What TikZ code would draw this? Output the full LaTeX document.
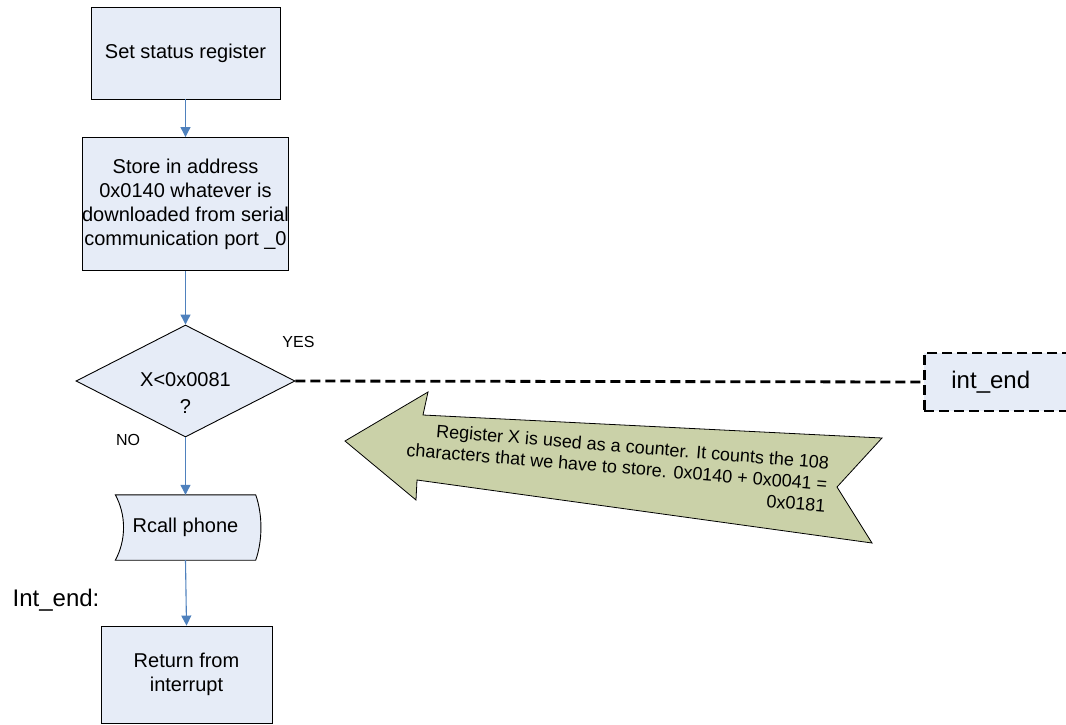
\documentclass[tikz,border=0pt]{standalone}
\usepackage{fontspec}
\setmainfont{Liberation Sans}
\usetikzlibrary{shapes.geometric,arrows.meta,backgrounds}
\definecolor{boxfill}{RGB}{230,236,247}
\definecolor{notefill}{RGB}{202,209,168}
\definecolor{flow}{RGB}{79,129,189}
\begin{document}
\begin{tikzpicture}[x=1pt,y=-1pt,
  every node/.style={font=\fontsize{20}{24}\selectfont, inner sep=0pt},
  procbox/.style={draw=black, line width=0.9pt, fill=boxfill, align=center},
  decision/.style={diamond, draw=black, line width=0.9pt, fill=boxfill,
    minimum width=219pt, minimum height=112pt},
  flowline/.style={draw=flow, line width=1.1pt, -{Triangle[length=10pt,width=10pt]}},
  dashline/.style={line width=2.8pt, dash pattern=on 10pt off 5pt},
  smalllabel/.style={font=\fontsize{16}{19}\selectfont},
  biglabel/.style={font=\fontsize{24}{28}\selectfont}
]
\useasboundingbox (0,0) rectangle (1066,724);
\clip (0,0) rectangle (1066,724);

% main flow
\node[procbox, minimum width=189pt, minimum height=92pt] (set) at (185.5,53) {Set status register};
\node[procbox, minimum width=189pt, minimum height=133pt] (store) at (185.5,204)
  {Store in address\\0x0140 whatever is\\downloaded from serial\\communication port \_0};
\node[decision] (test) at (185.5,381) {};
\node[align=center] (testtext) at (185.5,393) {X<0x0081\\[3pt]?};
\node[minimum width=140pt, minimum height=65pt] (rcall) at (185.5,527.5) {Rcall phone};
\node[procbox, minimum width=171pt, minimum height=97pt] (ret) at (186.5,674.5) {Return from\\interrupt};

% stored-data outline behind the call node
\begin{scope}[on background layer]
\draw[line width=0.9pt, fill=boxfill]
  (rcall.north west) -- (rcall.north east)
  .. controls +(7,20) and +(7,-20) .. (rcall.south east)
  -- (rcall.south west)
  .. controls +(11,-20) and +(11,20) .. (rcall.north west) -- cycle;
\end{scope}

% jump target on the right
\node[draw=black, dashline, fill=boxfill, anchor=west, minimum height=58pt,
  text width=96pt, inner xsep=27pt, align=left, biglabel] (intend) at (923,382) {int\_end};

% labels
\node[smalllabel] (yes) at (298.5,342) {YES};
\node[smalllabel] (no) at (128,440) {NO};
\node[biglabel] (intlabel) at (56,600) {Int\_end:};

% connectors
\draw[flowline] (set.south) -- (store.north);
\draw[flowline] (store.south) -- (test.north);
\draw[flowline] (test.south) -- (rcall.north);
\draw[flowline] (rcall.south) -- (ret.north);
\draw[dashline] (test.east) -- (intend.west);

% note arrow
\draw[line width=0.8pt, fill=notefill, line join=miter]
  (345,441) -- (428,392) -- (423,415) -- (882,438) -- (837,487)
  -- (872,543) -- (417,480) -- (416,500) -- cycle;
\node[rotate=-4.7, align=right, font=\fontsize{18}{21.5}\selectfont] (note) at (617,467)
  {Register X is used as a counter. It counts the 108\\characters that we have to store. 0x0140 + 0x0041 =\\0x0181};
\end{tikzpicture}
\end{document}
